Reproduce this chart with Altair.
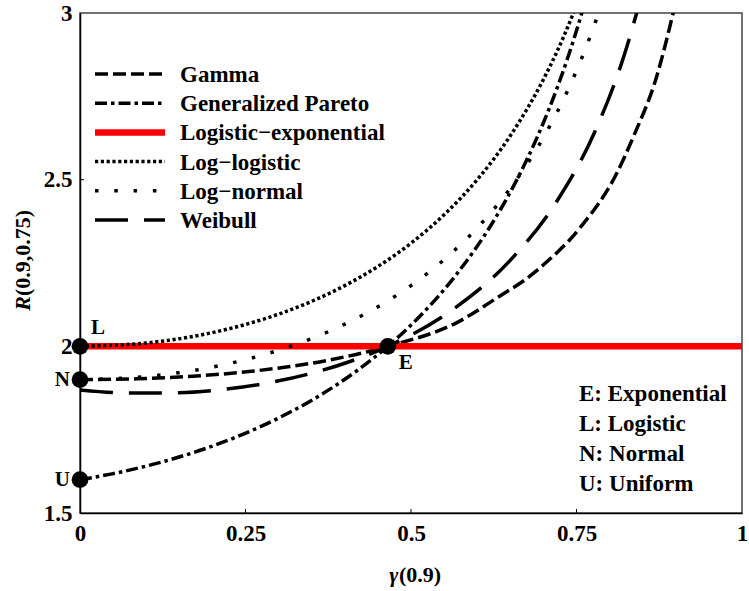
import altair as alt
import pandas as pd

# ---------------- data ----------------
series_names = ["Gamma", "Generalized Pareto", "Logistic−exponential",
                "Log−logistic", "Log−normal", "Weibull"]

gamma_x = [0, 0.0858, 0.1365, 0.1950, 0.2550, 0.3171, 0.3712, 0.4650, 0.570,
           0.635, 0.6735, 0.695, 0.755, 0.811, 0.836, 0.871, 0.896, 0.91]
gamma_y = [1.9, 1.9026, 1.9066, 1.9137, 1.9243, 1.9395, 1.9570, 2.0, 2.072,
           2.152, 2.2015, 2.236, 2.355, 2.52, 2.629, 2.809, 3.0, 3.12]

gpd_x = [0, 0.0231, 0.0464, 0.1171, 0.1885, 0.2361, 0.2834, 0.3533, 0.4212,
         0.4650, 0.5073, 0.5675, 0.6236, 0.6584, 0.6910, 0.7215, 0.7359,
         0.7498, 0.7632]
gpd_y = [1.6, 1.6079, 1.6167, 1.6495, 1.6927, 1.7279, 1.7691, 1.8420, 1.9311,
         2.0, 2.0780, 2.2129, 2.3723, 2.4940, 2.6292, 2.7793, 2.8604,
         2.9457, 3.0354]

logexp_x = [0, 1]
logexp_y = [2, 2]

loglogis_x = [0, 0.1, 0.2, 0.25, 0.3, 0.35, 0.4, 0.45, 0.5, 0.55, 0.6, 0.65,
              0.7, 0.72, 0.745, 0.76]
loglogis_y = [2, 2.0101, 2.0412, 2.0656, 2.0966, 2.1350, 2.1822, 2.2396,
              2.3094, 2.3947, 2.5, 2.6318, 2.8006, 2.8820, 2.9982, 3.0773]

lognorm_x = [0, 0.1, 0.2, 0.25, 0.3, 0.35, 0.4, 0.465, 0.5, 0.55, 0.6, 0.65,
             0.7, 0.72, 0.75, 0.77, 0.78, 0.79]
lognorm_y = [1.9, 1.9093, 1.9378, 1.9600, 1.9884, 2.0235, 2.0665, 2.1365,
             2.1823, 2.2600, 2.3552, 2.4744, 2.6265, 2.6998, 2.8270, 2.9263,
             2.9812, 3.0402]

weibull_x = [0, 0.0760, 0.1483, 0.2182, 0.2852, 0.3489, 0.4089, 0.4650,
             0.5651, 0.6495, 0.7194, 0.7765, 0.8226, 0.8421]
weibull_y = [1.8688, 1.8597, 1.8608, 1.8710, 1.8907, 1.9188, 1.9553, 2.0,
             2.1131, 2.2573, 2.4324, 2.6386, 2.8769, 3.0087]

point_labels = ["L", "N", "U", "E"]
point_x = [0, 0, 0, 0.465]
point_y = [2.0, 1.9, 1.6, 2.0]

note_texts = ["E: Exponential", "L: Logistic", "N: Normal", "U: Uniform"]

x_ticks = [0, 0.25, 0.5, 0.75, 1]
y_ticks = [1.5, 2, 2.5, 3]

# ---------------- styles ----------------
RED = "#ff0000"
dashes = {"Gamma": [13, 5], "Generalized Pareto": [12, 4, 3.5, 4],
          "Logistic−exponential": [1, 0], "Log−logistic": [3.2, 2.6],
          "Log−normal": [3.5, 15.8], "Weibull": [33, 16]}
BLACK_W = 3.5
RED_W = 6.5

W, H = 662, 500
FONT = "Liberation Serif"

xs = [gamma_x, gpd_x, logexp_x, loglogis_x, lognorm_x, weibull_x]
ys = [gamma_y, gpd_y, logexp_y, loglogis_y, lognorm_y, weibull_y]
rows = []
for name, xx, yy in zip(series_names, xs, ys):
    for a, b in zip(xx, yy):
        rows.append({"series": name, "g": a, "R": b})
curves = pd.DataFrame(rows)

xsc = alt.Scale(domain=[0, 1], nice=False, zero=False)
ysc = alt.Scale(domain=[1.5, 3], nice=False, zero=False)

x_axis = alt.Axis(values=x_ticks, format="~g", title=None, grid=False, ticks=False,
                  labelFont=FONT, labelFontWeight="bold", labelFontSize=23,
                  labelColor="black", labelPadding=9, labelFlush=False,
                  labelOverlap=False, domainColor="black", domainWidth=1.5)
y_axis = alt.Axis(values=y_ticks, format="~g", title=None, grid=False, ticks=False,
                  labelFont=FONT, labelFontWeight="bold", labelFontSize=23,
                  labelColor="black", labelPadding=8, labelFlush=False,
                  labelOverlap=False, labelBaseline="middle",
                  domainColor="black", domainWidth=1.5)

base = alt.Chart(curves)

def curve(name, color, width, with_axes=False):
    enc_x = alt.X("g:Q", scale=xsc, axis=x_axis) if with_axes else alt.X("g:Q", scale=xsc)
    enc_y = alt.Y("R:Q", scale=ysc, axis=y_axis) if with_axes else alt.Y("R:Q", scale=ysc)
    return base.transform_filter(alt.datum.series == name).mark_line(
        clip=True, interpolate="monotone", strokeCap="butt", color=color,
        strokeWidth=width, strokeDash=dashes[name]).encode(x=enc_x, y=enc_y)

red_line = curve("Logistic−exponential", RED, RED_W, with_axes=True)
black_lines = [curve(n, "black", BLACK_W) for n in ["Gamma", "Generalized Pareto",
                                                    "Log−logistic", "Log−normal", "Weibull"]]

# small inward ticks
xt = pd.DataFrame({"t": x_ticks[1:-1]})
yt = pd.DataFrame({"t": y_ticks[1:-1]})
xtick = alt.Chart(xt).mark_rule(color="black", strokeWidth=1).encode(
    x=alt.X("t:Q", scale=xsc), y=alt.value(H), y2=alt.value(H - 4))
ytick = alt.Chart(yt).mark_rule(color="black", strokeWidth=1).encode(
    y=alt.Y("t:Q", scale=ysc), x=alt.value(0), x2=alt.value(4))

pts = pd.DataFrame({"lab": point_labels, "g": point_x, "R": point_y})
dots = alt.Chart(pts).mark_point(filled=True, shape="circle", size=280, color="black", opacity=1).encode(
    x=alt.X("g:Q", scale=xsc), y=alt.Y("R:Q", scale=ysc))

def letter(labs, **kw):
    return alt.Chart(pts).transform_filter(
        alt.FieldOneOfPredicate(field="lab", oneOf=labs)
    ).mark_text(font=FONT, fontWeight="bold", fontSize=21, color="black",
                baseline="middle", **kw).encode(
        x=alt.X("g:Q", scale=xsc), y=alt.Y("R:Q", scale=ysc), text="lab:N")

let_L = letter(["L"], align="left", dx=11, dy=-18)
let_NU = letter(["N", "U"], align="right", dx=-10, dy=0)
let_E = letter(["E"], align="left", dx=11, dy=17)

# legend (drawn inside the plot, top-left)
leg = pd.DataFrame({"series": series_names, "row": list(range(len(series_names)))})

def leg_line(name, color, width):
    return alt.Chart(leg).transform_filter(alt.datum.series == name).transform_calculate(
        ly="3 - (61 + 29.2*datum.row)*0.003", lx0=str(15 / W), lx1=str(85 / W)
    ).mark_rule(strokeCap="butt", color=color, strokeWidth=width,
                strokeDash=dashes[name]).encode(
        x=alt.X("lx0:Q", scale=xsc), x2="lx1:Q", y=alt.Y("ly:Q", scale=ysc))

leg_lines = [leg_line(n, RED if n == "Logistic−exponential" else "black",
                      RED_W if n == "Logistic−exponential" else BLACK_W) for n in series_names]

leg_text = alt.Chart(leg).transform_calculate(
    ty="3 - (69 + 29.2*datum.row)*0.003", tx=str(100 / W)
).mark_text(font=FONT, fontWeight="bold", fontSize=23, color="black",
            align="left", baseline="alphabetic").encode(
    x=alt.X("tx:Q", scale=xsc), y=alt.Y("ty:Q", scale=ysc), text="series:N")

# notes bottom-right
notes = pd.DataFrame({"txt": note_texts, "row": list(range(len(note_texts)))})
note_text = alt.Chart(notes).transform_calculate(
    ty="3 - (388 + 30*datum.row)*0.003", tx=str(499 / W)
).mark_text(font=FONT, fontWeight="bold", fontSize=23, color="black",
            align="left", baseline="alphabetic").encode(
    x=alt.X("tx:Q", scale=xsc), y=alt.Y("ty:Q", scale=ysc), text="txt:N")

# axis titles with italic symbols
one = pd.DataFrame({"a": [0]})
yt_R = alt.Chart(one).mark_text(text="R", font=FONT, fontWeight="bold", fontStyle="italic",
                                fontSize=22, angle=270, align="right", baseline="middle",
                                color="black").encode(x=alt.value(-57.5), y=alt.value(283))
yt_rest = alt.Chart(one).mark_text(text="(0.9,0.75)", font=FONT, fontWeight="bold",
                                   fontSize=22, angle=270, align="left", baseline="middle",
                                   color="black").encode(x=alt.value(-57.5), y=alt.value(283))
xt_g = alt.Chart(one).mark_text(text="γ", font=FONT, fontWeight="bold", fontStyle="italic",
                                fontSize=22, align="right", baseline="middle",
                                color="black").encode(x=alt.value(318.5), y=alt.value(562))
xt_rest = alt.Chart(one).mark_text(text="(0.9)", font=FONT, fontWeight="bold",
                                   fontSize=22, align="left", baseline="middle",
                                   color="black").encode(x=alt.value(319), y=alt.value(562))

chart = alt.layer(
    *black_lines[:2], red_line, *black_lines[2:], xtick, ytick, dots, let_L, let_NU, let_E,
    *leg_lines, leg_text, note_text, yt_R, yt_rest, xt_g, xt_rest
).properties(
    width=W, height=H,
    autosize=alt.AutoSizeParams(type="none"),
    padding={"left": 80, "top": 13, "right": 7, "bottom": 78},
    background="white",
).configure_view(stroke="#444444", strokeWidth=1.5)

chart.save("out.html", embed_options={"renderer": "svg", "actions": False})
